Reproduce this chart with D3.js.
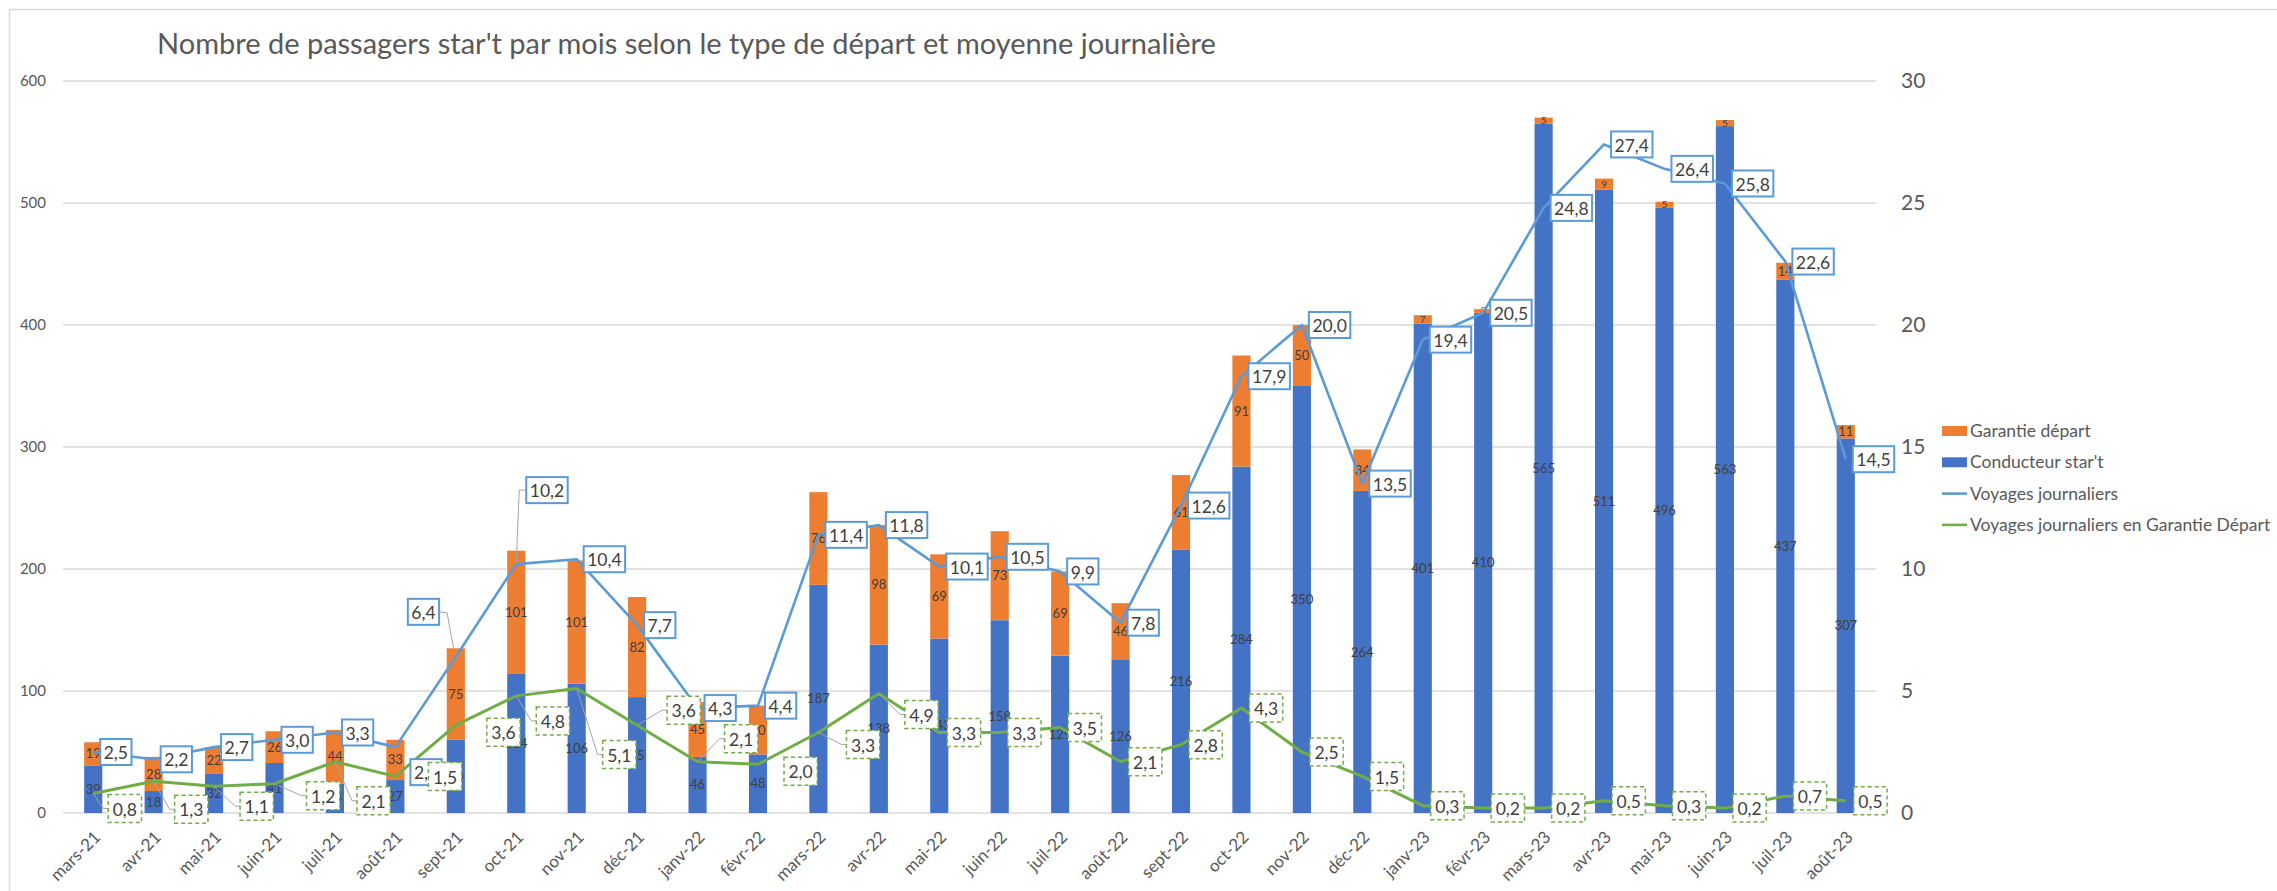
<!DOCTYPE html>
<html>
<head>
<meta charset="utf-8">
<script src="https://cdn.jsdelivr.net/npm/d3@7"></script>
<style>
  body { margin: 0; background: #fff; }
  svg { display: block; }
  text { font-family: Lato, "Open Sans", sans-serif; }
</style>
</head>
<body>
<svg id="chart" width="2277" height="891"></svg>
<script>
// chart data
const months = ["mars-21","avr-21","mai-21","juin-21","juil-21","août-21","sept-21","oct-21","nov-21","déc-21",
  "janv-22","févr-22","mars-22","avr-22","mai-22","juin-22","juil-22","août-22","sept-22","oct-22","nov-22","déc-22",
  "janv-23","févr-23","mars-23","avr-23","mai-23","juin-23","juil-23","août-23"];
const conducteur = [39,18,32,41,24,27,60,114,106,95,46,48,187,138,143,158,129,126,216,284,350,264,401,410,565,511,496,563,437,307];
const garantie = [19,28,22,26,44,33,75,101,101,82,45,40,76,98,69,73,69,46,61,91,50,34,7,3,5,9,5,5,14,11];
const voyages = [2.5,2.2,2.7,3.0,3.3,2.7,6.4,10.2,10.4,7.7,4.3,4.4,11.4,11.8,10.1,10.5,9.9,7.8,12.6,17.9,20.0,13.5,19.4,20.5,24.8,27.4,26.4,25.8,22.6,14.5];
const voyagesGarantie = [0.8,1.3,1.1,1.2,2.1,1.5,3.6,4.8,5.1,3.6,2.1,2.0,3.3,4.9,3.3,3.3,3.5,2.1,2.8,4.3,2.5,1.5,0.3,0.2,0.2,0.5,0.3,0.2,0.7,0.5];
const leftTicks = [0,100,200,300,400,500,600];
const rightTicks = [0,5,10,15,20,25,30];
const legendItems = ["Garantie départ","Conducteur star't","Voyages journaliers","Voyages journaliers en Garantie Départ"];

// label placement tweaks (Excel moved some labels by hand)
const blueMoved = { 5: [15, 25], 6: [-48, -45, "right"], 7: [10, -74, "left"] };
const greenMoved = { 0:[15,15], 1:[21,28], 2:[26,20], 3:[32,12], 4:[22,39], 5:[33,0], 6:[31,7], 7:[20,25],
  8:[26,66], 9:[30,-15], 10:[27,-23], 11:[26,7], 12:[28,12], 13:[26,21] };

const colors = { cond: "#4472C4", gar: "#ED7D31", line: "#5B9BD5", green: "#70AD47", text: "#595959", grid: "#D9D9D9" };
const fmt = v => d3.format(".1f")(v).replace(".", ",");

const svg = d3.select("#chart");

// chart frame
svg.append("rect").attr("x", 9.5).attr("y", 9.5).attr("width", 2400).attr("height", 1000)
  .attr("fill", "none").attr("stroke", "#D9D9D9").attr("stroke-width", 1.5);

svg.append("text").attr("x", 157).attr("y", 54)
  .attr("font-size", 29).attr("fill", colors.text)
  .text("Nombre de passagers star't par mois selon le type de départ et moyenne journalière");

const x = d3.scaleBand().domain(months).range([63, 1876]).paddingInner(0.7).paddingOuter(0.35);
const yL = d3.scaleLinear().domain([0, 600]).range([813, 81]);
const yR = d3.scaleLinear().domain([0, 30]).range([813, 81]);
const cx = m => x(m) + x.bandwidth() / 2;

// gridlines
svg.append("g").selectAll("line").data(leftTicks).join("line")
  .attr("x1", 63).attr("x2", 1876)
  .attr("y1", d => yL(d)).attr("y2", d => yL(d))
  .attr("stroke", colors.grid).attr("stroke-width", 1.5);

// left axis
svg.append("g").selectAll("text").data(leftTicks).join("text")
  .attr("x", 46).attr("y", d => yL(d)).attr("dy", "0.35em")
  .attr("text-anchor", "end").attr("font-size", 15).attr("fill", colors.text)
  .text(d => d);

// right axis
svg.append("g").selectAll("text").data(rightTicks).join("text")
  .attr("x", 1901).attr("y", d => yR(d)).attr("dy", "0.35em")
  .attr("font-size", 21).attr("fill", colors.text)
  .text(d => d);

// x axis labels
svg.append("g").selectAll("text").data(months).join("text")
  .attr("transform", d => `translate(${cx(d) + 4},${834}) rotate(-45)`)
  .attr("text-anchor", "end").attr("dy", "0.35em")
  .attr("font-size", 17).attr("fill", colors.text)
  .text(d => d);

// stacked bars
const stacked = months.map((m, i) => ({ m, c: conducteur[i], g: garantie[i] }));
const bars = svg.append("g");
bars.selectAll(".cond").data(stacked).join("rect")
  .attr("x", d => x(d.m)).attr("width", x.bandwidth())
  .attr("y", d => yL(d.c)).attr("height", d => yL(0) - yL(d.c))
  .attr("fill", colors.cond);
bars.selectAll(".gar").data(stacked).join("rect")
  .attr("x", d => x(d.m)).attr("width", x.bandwidth())
  .attr("y", d => yL(d.c + d.g)).attr("height", d => yL(d.c) - yL(d.c + d.g))
  .attr("fill", colors.gar);

// bar value labels
const barLbl = svg.append("g").attr("fill", "#404040").attr("text-anchor", "middle");
barLbl.selectAll(".lc").data(stacked).join("text")
  .attr("x", d => cx(d.m)).attr("y", d => yL(d.c / 2)).attr("dy", "0.35em")
  .attr("font-size", 13).text(d => d.c);
barLbl.selectAll(".lg").data(stacked).join("text")
  .attr("x", d => cx(d.m)).attr("y", d => yL(d.c + d.g / 2)).attr("dy", "0.35em")
  .attr("font-size", d => d.g < 10 ? 10 : 13).text(d => d.g);

// lines
const lineGen = d3.line().x((d, i) => cx(months[i])).y(d => yR(d));
svg.append("path").datum(voyages).attr("d", lineGen)
  .attr("fill", "none").attr("stroke", colors.line).attr("stroke-width", 2.6).attr("stroke-linejoin", "round");
svg.append("path").datum(voyagesGarantie).attr("d", lineGen)
  .attr("fill", "none").attr("stroke", colors.green).attr("stroke-width", 3).attr("stroke-linejoin", "round");

// boxed data labels
const leaders = svg.append("g").attr("fill", "none").attr("stroke", "#A6A6A6").attr("stroke-width", 1);
const labelLayer = svg.append("g");

function drawLabel(i, v, moved, defaultDx, style) {
  const px = cx(months[i]), py = yR(v);
  const mv = moved[i] || [defaultDx, 0];
  const g = labelLayer.append("g");
  const t = g.append("text").attr("font-size", 17.5).attr("fill", "#404040").attr("dy", "0.35em").text(fmt(v));
  const tw = t.node().getComputedTextLength();
  const bw = tw + style.pad * 2, bh = style.h;
  const bx = px + mv[0], by = py + mv[1] - bh / 2;
  g.insert("rect", "text").attr("x", bx).attr("y", by).attr("width", bw).attr("height", bh)
    .attr("fill", "#fff").attr("stroke", style.stroke).attr("stroke-width", style.sw)
    .attr("stroke-dasharray", style.dash);
  t.attr("x", bx + style.pad).attr("y", py + mv[1] + 1);
  const cy = py + mv[1];
  if (mv[2] === "right") {
    leaders.append("path").attr("d", d3.line()([[bx + bw, cy], [bx + bw + 8, cy + 1], [px - 2, py - 7]]));
  } else if (mv[2] === "left") {
    leaders.append("path").attr("d", d3.line()([[bx, cy], [bx - 7, cy], [px, py - 1]]));
  } else if (style.leader && Math.abs(mv[1]) > 10) {
    leaders.append("path").attr("d", d3.line()([[px, py], [bx - 5, cy], [bx, cy]]));
  }
}

const blueStyle = { pad: 3.5, h: 26, stroke: colors.line, sw: 2, dash: null, leader: false };
const greenStyle = { pad: 4.5, h: 28, stroke: colors.green, sw: 1.5, dash: "4,3", leader: true };
voyages.forEach((v, i) => drawLabel(i, v, blueMoved, 7, blueStyle));
voyagesGarantie.forEach((v, i) => drawLabel(i, v, greenMoved, 8, greenStyle));

// legend
const legend = svg.append("g");
legendItems.forEach((name, i) => {
  const ly = 431 + i * 31.3;
  if (i < 2) {
    legend.append("rect").attr("x", 1942).attr("y", ly - 5).attr("width", 25).attr("height", 10)
      .attr("fill", i === 0 ? colors.gar : colors.cond);
  } else {
    legend.append("line").attr("x1", 1942).attr("x2", 1967).attr("y1", ly).attr("y2", ly)
      .attr("stroke", i === 2 ? colors.line : colors.green).attr("stroke-width", 2.6);
  }
  legend.append("text").attr("x", 1970).attr("y", ly).attr("dy", "0.35em")
    .attr("font-size", 17.5).attr("fill", colors.text).text(name);
});
</script>
</body>
</html>
